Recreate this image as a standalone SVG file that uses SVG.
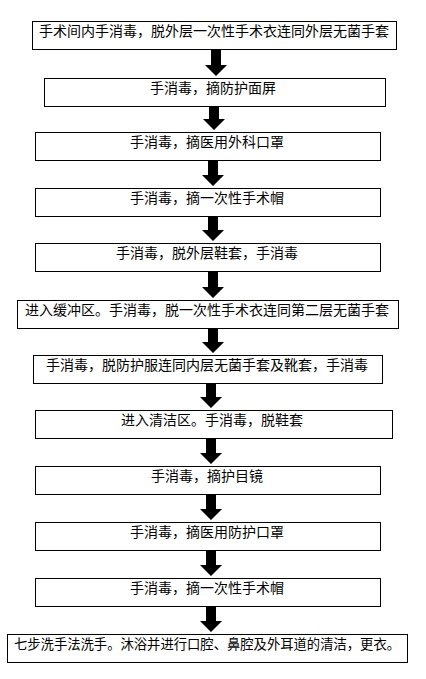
<svg xmlns="http://www.w3.org/2000/svg" width="426" height="679" viewBox="0 0 426 679">
<style>
.box{fill:#fff;stroke:#000;stroke-width:1}
.t{font-family:"Noto Sans CJK SC","Noto Sans",sans-serif;font-size:14px;fill:#000;text-anchor:middle}
.arr{fill:#000}
</style>
<defs>
<path id="arrow" class="arr" d="M-5,0 H5 V-13 H11 L0,-2 L-11,-13 H-5 Z"/>
</defs>
<rect width="426" height="679" fill="#fff"/>
<g id="connectors">
<path class="arr" d="M211,49 H221 V65 H227 L216,76 L205,65 H211 Z"/>
<path class="arr" d="M209,106 H219 V119 H225 L214,130 L203,119 H209 Z"/>
<path class="arr" d="M208,160 H218 V175 H224 L213,186 L202,175 H208 Z"/>
<path class="arr" d="M208,216 H218 V230 H224 L213,241 L202,230 H208 Z"/>
<path class="arr" d="M208,271 H218 V287 H224 L213,298 L202,287 H208 Z"/>
<path class="arr" d="M208,328 H218 V342 H224 L213,353 L202,342 H208 Z"/>
<path class="arr" d="M206,383 H216 V397 H222 L211,408 L200,397 H206 Z"/>
<path class="arr" d="M206,438 H216 V453 H222 L211,464 L200,453 H206 Z"/>
<path class="arr" d="M206,494 H216 V509 H222 L211,520 L200,509 H206 Z"/>
<path class="arr" d="M206,550 H216 V565 H222 L211,576 L200,565 H206 Z"/>
<path class="arr" d="M206,606 H216 V621 H222 L211,632 L200,621 H206 Z"/>
</g>
<g id="n1"><rect class="box" x="32.5" y="21.5" width="364" height="28"/><text class="t" x="214" y="35.5">手术间内手消毒，脱外层一次性手术衣连同外层无菌手套</text></g>
<g id="n2"><rect class="box" x="44.5" y="78.5" width="341" height="28"/><text class="t" x="213" y="92.5">手消毒，摘防护面屏</text></g>
<g id="n3"><rect class="box" x="35.5" y="132.5" width="345" height="28"/><text class="t" x="207" y="146.5">手消毒，摘医用外科口罩</text></g>
<g id="n4"><rect class="box" x="35.5" y="188.5" width="345" height="28"/><text class="t" x="207" y="202.5">手消毒，摘一次性手术帽</text></g>
<g id="n5"><rect class="box" x="35.5" y="243.5" width="345" height="28"/><text class="t" x="207" y="257.5">手消毒，脱外层鞋套，手消毒</text></g>
<g id="n6"><rect class="box" x="17.5" y="300.5" width="381" height="28"/><text class="t" x="207" y="314.5">进入缓冲区。手消毒，脱一次性手术衣连同第二层无菌手套</text></g>
<g id="n7"><rect class="box" x="33.5" y="355.5" width="349" height="28"/><text class="t" x="207" y="369.5">手消毒，脱防护服连同内层无菌手套及靴套，手消毒</text></g>
<g id="n8"><rect class="box" x="35.5" y="410.5" width="357" height="28"/><text class="t" x="212" y="424.5">进入清洁区。手消毒，脱鞋套</text></g>
<g id="n9"><rect class="box" x="35.5" y="466.5" width="345" height="28"/><text class="t" x="207" y="480.5">手消毒，摘护目镜</text></g>
<g id="n10"><rect class="box" x="35.5" y="522.5" width="345" height="28"/><text class="t" x="207" y="536.5">手消毒，摘医用防护口罩</text></g>
<g id="n11"><rect class="box" x="35.5" y="578.5" width="345" height="28"/><text class="t" x="207" y="592.5">手消毒，摘一次性手术帽</text></g>
<g id="n12"><rect class="box" x="7.5" y="634.5" width="400" height="28"/><text class="t" x="207" y="648.5" textLength="386" lengthAdjust="spacingAndGlyphs">七步洗手法洗手。沐浴并进行口腔、鼻腔及外耳道的清洁，更衣。</text></g>
</svg>
